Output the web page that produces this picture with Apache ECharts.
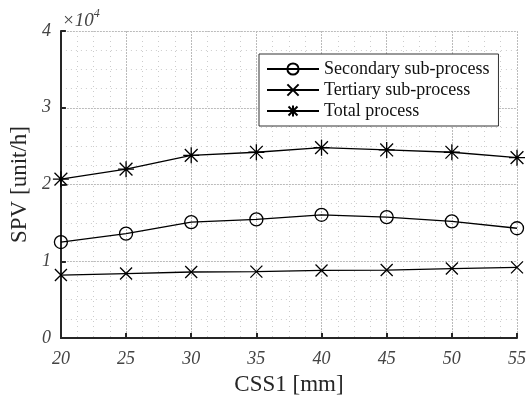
<!DOCTYPE html>
<html>
<head>
<meta charset="utf-8">
<script src="https://cdn.jsdelivr.net/npm/echarts@6/dist/echarts.min.js"></script>
<style>
  html, body { margin: 0; padding: 0; background: #fff; }
  #main { width: 529px; height: 401px; }
</style>
</head>
<body>
<div id="main"></div>
<script>
// CSS1 setting [mm]
var css1 = [20, 25, 30, 35, 40, 45, 50, 55];
// SPV [unit/h]
var secondary = [12500, 13600, 15100, 15450, 16050, 15750, 15200, 14300];
var tertiary = [8200, 8400, 8600, 8650, 8800, 8850, 9050, 9200];
var total = [20700, 22000, 23800, 24200, 24800, 24500, 24200, 23500];

var seriesNames = ['Secondary sub-process', 'Tertiary sub-process', 'Total process'];

function pairs(ys) {
  return css1.map(function (x, i) { return [x, ys[i]]; });
}

var crossPath = 'path://M0,0L10,10M10,0L0,10';
var starPath = 'path://M5,0L5,10M0,5L10,5M1,1L9,9M9,1L1,9';

var chart = echarts.init(document.getElementById('main'));

var serifFont = '"Liberation Serif", "DejaVu Serif", serif';

var option = {
  backgroundColor: '#fff',
  animation: false,
  grid: { left: 60, right: 6, top: 31, bottom: 61 },
  legend: {
    left: 259, top: 54,
    orient: 'vertical',
    itemWidth: 52, itemHeight: 14,
    itemGap: 3,
    padding: [6, 9, 6, 7],
    backgroundColor: '#fff',
    borderColor: '#333',
    borderWidth: 1,
    borderRadius: 0,
    textStyle: { fontFamily: serifFont, fontSize: 18, color: '#111' },
    data: seriesNames
  },
  xAxis: {
    type: 'value', min: 20, max: 55, interval: 5,
    name: 'CSS1 [mm]', nameLocation: 'middle', nameGap: 35,
    nameTextStyle: { fontFamily: serifFont, fontSize: 23, color: '#262626' },
    axisLine: { lineStyle: { color: '#262626', width: 2 } },
    axisTick: { inside: true, length: 5, lineStyle: { color: '#262626', width: 2 } },
    axisLabel: { fontFamily: serifFont, fontStyle: 'italic', fontSize: 18, color: '#444', margin: 12 },
    splitLine: { show: true, lineStyle: { color: '#bbb', type: [2, 1], width: 1 } },
    minorTick: { show: true, splitNumber: 4, length: 0 },
    minorSplitLine: { show: true, lineStyle: { color: '#ccc', type: [1, 4], width: 1 } }
  },
  yAxis: {
    type: 'value', min: 0, max: 40000, interval: 10000,
    name: 'SPV [unit/h]', nameLocation: 'middle', nameGap: 25,
    nameTextStyle: { fontFamily: serifFont, fontSize: 23, color: '#262626' },
    axisLine: { show: true, lineStyle: { color: '#262626', width: 2 } },
    axisTick: { show: true, inside: true, length: 5, lineStyle: { color: '#262626', width: 2 } },
    axisLabel: {
      fontFamily: serifFont, fontStyle: 'italic', fontSize: 18, color: '#444', margin: 10,
      formatter: function (v) { return v / 10000; }
    },
    splitLine: { show: true, lineStyle: { color: '#bbb', type: [2, 1], width: 1 } },
    minorTick: { show: true, splitNumber: 4, length: 0 },
    minorSplitLine: { show: true, lineStyle: { color: '#ccc', type: [1, 4], width: 1 } }
  },
  graphic: [{
    type: 'text', left: 62, top: 8,
    style: {
      text: '{a|×10}{b|4}',
      rich: {
        a: { fontFamily: serifFont, fontStyle: 'italic', fontSize: 19, fill: '#444', verticalAlign: 'bottom' },
        b: { fontFamily: serifFont, fontStyle: 'italic', fontSize: 12, fill: '#444', verticalAlign: 'top', padding: [0, 0, 10, 0] }
      }
    }
  }],
  series: [
    {
      name: seriesNames[0], type: 'line', data: pairs(secondary),
      symbol: 'circle', symbolSize: 13,
      lineStyle: { color: '#000', width: 1.3 },
      itemStyle: { color: 'none', borderColor: '#000', borderWidth: 1.3 }
    },
    {
      name: seriesNames[1], type: 'line', data: pairs(tertiary),
      symbol: crossPath, symbolSize: 12,
      lineStyle: { color: '#000', width: 1.3 },
      itemStyle: { color: 'none', borderColor: '#000', borderWidth: 1.3 }
    },
    {
      name: seriesNames[2], type: 'line', data: pairs(total),
      symbol: starPath, symbolSize: 16,
      lineStyle: { color: '#000', width: 1.3 },
      itemStyle: { color: 'none', borderColor: '#000', borderWidth: 1.3 }
    }
  ]
};

chart.setOption(option);
</script>
</body>
</html>
